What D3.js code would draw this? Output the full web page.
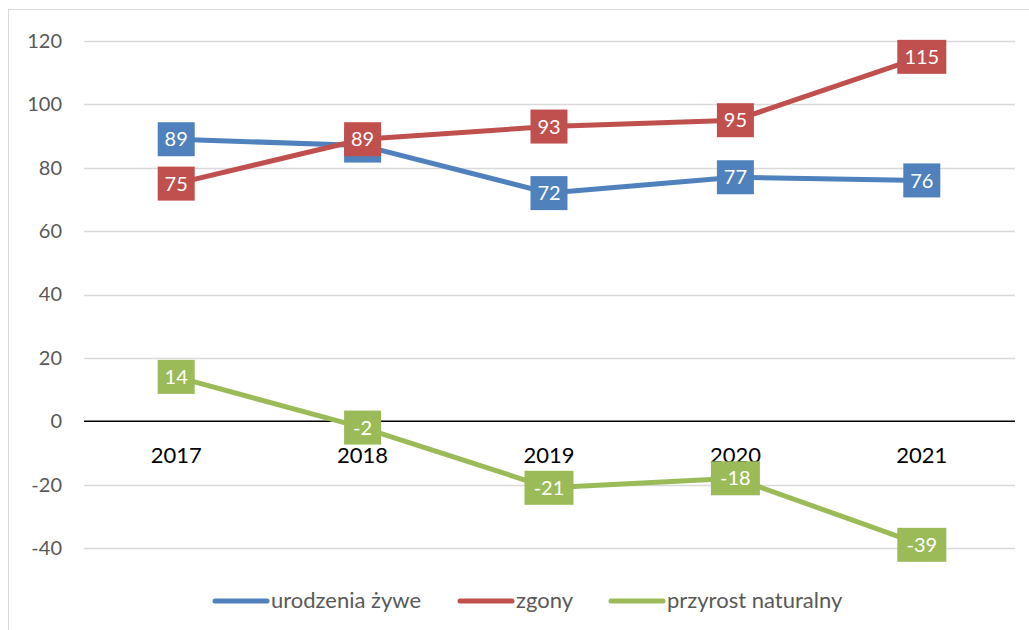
<!DOCTYPE html>
<html>
<head>
<meta charset="utf-8">
<script src="https://cdn.jsdelivr.net/npm/d3@7"></script>
<style>
  body { margin: 0; background: #fff; }
  svg { display: block; font-family: Lato, "Open Sans", sans-serif; }
</style>
</head>
<body>
<div id="chart"></div>
<script>
// data
var years = ["2017", "2018", "2019", "2020", "2021"];
var births = [89, 87, 72, 77, 76];
var deaths = [75, 89, 93, 95, 115];
var growth = [14, -2, -21, -18, -39];
var yTicks = [-40, -20, 0, 20, 40, 60, 80, 100, 120];
var seriesNames = ["urodzenia żywe", "zgony", "przyrost naturalny"];
var seriesColors = ["#4F81BD", "#C0504D", "#9BBB59"];

var svgWidth = 1029;
var svgHeight = 630;

var svg = d3.select("#chart")
  .append("svg")
  .attr("width", svgWidth)
  .attr("height", svgHeight);

// chart border
svg.append("rect")
  .attr("x", 8.5).attr("y", 9.5)
  .attr("width", 1040).attr("height", 640)
  .attr("fill", "none")
  .attr("stroke", "#d9d9d9");

var xScale = d3.scaleBand()
  .domain(years)
  .range([83, 1015]);

var yScale = d3.scaleLinear()
  .domain([-40, 120])
  .range([548, 41]);

// gridlines
svg.append("g")
  .selectAll("line")
  .data(yTicks.filter(d => d !== 0))
  .enter()
  .append("line")
  .attr("x1", 84).attr("x2", 1015)
  .attr("y1", d => Math.round(yScale(d)) + 0.5)
  .attr("y2", d => Math.round(yScale(d)) + 0.5)
  .attr("stroke", "#d9d9d9")
  .attr("stroke-width", 1.3);

// y axis labels (plain hyphen like the original)
var leftAxis = d3.axisLeft(yScale)
  .tickValues(yTicks)
  .tickFormat(d => String(d))
  .tickSize(0)
  .tickPadding(0);
var yAxis = svg.append("g")
  .attr("transform", "translate(62,0)")
  .call(leftAxis);
yAxis.select(".domain").remove();
yAxis.selectAll("text")
  .attr("fill", "#595959")
  .style("font-size", "20px")
  .style("font-family", "Lato, sans-serif");

// zero line
svg.append("line")
  .attr("x1", 84).attr("x2", 1015)
  .attr("y1", yScale(0)).attr("y2", yScale(0))
  .attr("stroke", "#000")
  .attr("stroke-width", 1.5);

// category labels
var bottomAxis = d3.axisBottom(xScale).tickSize(0).tickPadding(0);
var xAxis = svg.append("g")
  .attr("transform", `translate(0,${yScale(0)})`)
  .call(bottomAxis);
xAxis.select(".domain").remove();
xAxis.selectAll("text")
  .attr("y", 42)
  .attr("dy", null)
  .attr("fill", "#000")
  .style("font-size", "22px")
  .style("font-family", "Lato, sans-serif");

var allSeries = [births, deaths, growth];
var line = d3.line()
  .x((d, i) => xScale(years[i]) + xScale.bandwidth() / 2)
  .y(d => yScale(d));

allSeries.forEach(function(values, s) {
  svg.append("path")
    .datum(values)
    .attr("d", line)
    .attr("fill", "none")
    .attr("stroke", seriesColors[s])
    .attr("stroke-width", 5)
    .attr("stroke-linejoin", "round")
    .attr("stroke-linecap", "round");
});

// data labels drawn after all lines
allSeries.forEach(function(values, s) {
  var lab = svg.append("g")
    .selectAll("g")
    .data(values)
    .enter()
    .append("g")
    .attr("transform", (d, i) => `translate(${xScale(years[i]) + xScale.bandwidth() / 2},${yScale(d)})`);

  lab.append("rect")
    .attr("x", d => String(d).length > 2 ? -24.5 : -18.5)
    .attr("y", -17)
    .attr("width", d => String(d).length > 2 ? 49 : 37)
    .attr("height", 34)
    .attr("fill", seriesColors[s]);

  lab.append("text")
    .attr("text-anchor", "middle")
    .attr("dy", "0.36em")
    .attr("fill", "#fff")
    .style("font-size", "20px")
    .text(d => d);
});

// legend
var legendX = [213, 458, 609];
var legend = svg.append("g")
  .selectAll("g")
  .data(seriesNames)
  .enter()
  .append("g")
  .attr("transform", (d, i) => `translate(${legendX[i]},601)`);

legend.append("line")
  .attr("x1", 2).attr("x2", 54)
  .attr("stroke", (d, i) => seriesColors[i])
  .attr("stroke-width", 5)
  .attr("stroke-linecap", "round");

legend.append("text")
  .attr("x", 58)
  .attr("y", 7)
  .attr("fill", "#595959")
  .style("font-size", "22px")
  .text(d => d);
</script>
</body>
</html>
